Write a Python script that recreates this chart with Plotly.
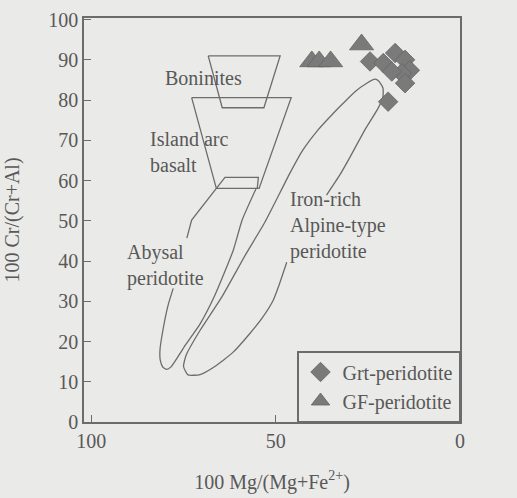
import plotly.graph_objects as go

# ---- data ----
# Grt-peridotite (diamonds): 100 Mg/(Mg+Fe2+), 100 Cr/(Cr+Al)
grt_x = [24.4, 17.6, 20.8, 14.9, 13.6, 15.8, 14.9, 19.5, 18.5]
grt_y = [89.6, 91.7, 89.2, 90.0, 87.4, 86.7, 84.2, 79.6, 87.1]
# GF-peridotite (triangles)
gf_x = [40.2, 38.2, 35.1, 26.7]
gf_y = [89.6, 89.6, 89.6, 93.8]

# field outlines
boninites_x = [68.3, 48.8, 53.2, 64.5, 68.3]
boninites_y = [91.0, 91.0, 78.1, 78.1, 91.0]

island_arc_x = [72.8, 45.8, 54.5, 66.1, 72.8]
island_arc_y = [80.6, 80.6, 58.05, 58.05, 80.6]

arc_base_x = [66.1, 63.75, 54.7, 55.0]
arc_base_y = [58.05, 60.8, 60.8, 58.05]

abyssal_top_x = [66.1, 72.8, 74.1]
abyssal_top_y = [58.05, 50.2, 45.7]
abyssal_x = [77.8, 79.2, 80.6, 81.4, 81.3, 80.6, 79.6, 78.4, 74.6, 70.5,
             66.5, 61.5, 59.1, 55.3]
abyssal_y = [33.2, 29.0, 22.8, 17.8, 15.3, 13.6, 13.1, 13.7, 19.0, 24.4,
             31.5, 42.7, 50.2, 58.05]

iron_x = [36.2, 32.6, 29.8, 25.8, 22.2, 20.9, 20.9, 22.0, 23.1, 25.3, 28.5,
          31.7, 34.8, 38.5, 42.6, 46.1, 52.9, 58.1, 64.6, 70.5, 74.3, 75.0,
          73.8, 70.5, 66.5, 61.6, 57.0, 53.7, 50.7, 49.1, 47.0]
iron_y = [56.4, 61.4, 65.9, 72.6, 78.0, 80.8, 83.0, 84.7, 85.2, 84.2, 82.1,
          79.2, 76.3, 72.6, 67.6, 61.9, 49.7, 41.7, 31.1, 22.8, 16.6, 13.8,
          11.7, 11.8, 13.8, 17.3, 22.0, 25.8, 30.2, 34.0, 39.7]

x_ticks = [100, 50, 0]
y_ticks = [0, 10, 20, 30, 40, 50, 60, 70, 80, 90, 100]

# ---- style ----
bg = "#eaeae8"
line_c = "#6c6c6c"
text_c = "#585858"
mark_c = "#7a7a7a"
mark_edge = "#646464"
font_family = "Liberation Serif"

fig = go.Figure()

def outline(xs, ys, shape="linear"):
    fig.add_trace(go.Scatter(x=xs, y=ys, mode="lines", showlegend=False,
                             hoverinfo="skip",
                             line=dict(color=line_c, width=1.3, shape=shape,
                                       smoothing=0.5)))

outline(boninites_x, boninites_y)
outline(island_arc_x, island_arc_y)
outline(arc_base_x, arc_base_y)
outline(abyssal_top_x, abyssal_top_y)
outline(abyssal_x, abyssal_y, "spline")
outline(iron_x, iron_y, "spline")

fig.add_trace(go.Scatter(x=grt_x, y=grt_y, mode="markers", name="Grt-peridotite",
                         marker=dict(symbol="diamond", size=15, color=mark_c,
                                     line=dict(color=mark_edge, width=0.8))))
fig.add_trace(go.Scatter(x=gf_x, y=gf_y, mode="markers", name="GF-peridotite",
                         marker=dict(symbol="triangle-up", size=21, color=mark_c,
                                     line=dict(color=mark_edge, width=0.8))))

labels = [
    ("Boninites", 69.5, 85.6, "center"),
    ("Island arc<br>basalt", 84.6, 67.2, "left"),
    ("Abysal<br>peridotite", 90.9, 39.0, "left"),
    ("Iron-rich<br>Alpine-type<br>peridotite", 46.6, 48.9, "left"),
]
for txt, lx, ly, al in labels:
    fig.add_annotation(x=lx, y=ly, text=txt, showarrow=False, align="left",
                       xanchor=al, yanchor="middle",
                       font=dict(family=font_family, size=20, color=text_c))

axis_common = dict(showgrid=False, zeroline=False, showline=True, mirror=True,
                   linecolor=line_c, linewidth=1.5, ticks="inside", ticklen=7,
                   tickwidth=1.3, tickcolor=line_c,
                   tickfont=dict(family=font_family, size=20, color=text_c))

fig.update_xaxes(range=[102, 0], tickvals=x_ticks, ticktext=[str(v) for v in x_ticks],
                 title=dict(text="100 Mg/(Mg+Fe<sup>2+</sup>)", standoff=24,
                            font=dict(family=font_family, size=20, color=text_c)),
                 **axis_common)
fig.update_yaxes(range=[0, 100.4], tickvals=y_ticks, ticktext=[str(v) for v in y_ticks],
                 title=dict(text="100 Cr/(Cr+Al)", standoff=23,
                            font=dict(family=font_family, size=20, color=text_c)),
                 **axis_common)

fig.update_layout(
    width=517, height=498,
    margin=dict(l=84, r=57, t=18, b=76, autoexpand=False),
    paper_bgcolor=bg, plot_bgcolor=bg,
    font=dict(family=font_family, size=20, color=text_c),
    legend=dict(x=1, y=0, xanchor="right", yanchor="bottom",
                bgcolor=bg, bordercolor=line_c, borderwidth=1.5,
                font=dict(family=font_family, size=20, color=text_c),
                itemsizing="trace", itemwidth=34, tracegroupgap=0),
)

fig.write_html("out.html")
